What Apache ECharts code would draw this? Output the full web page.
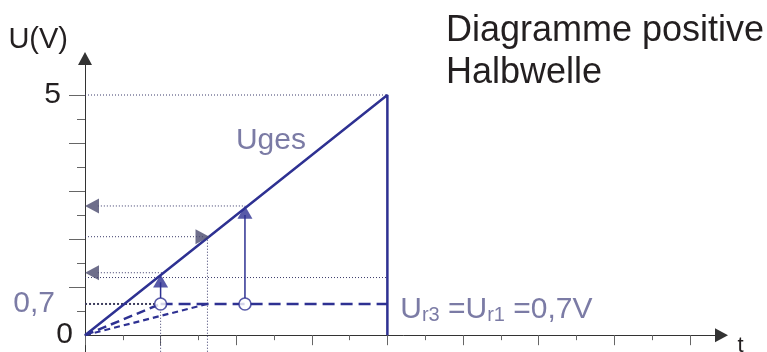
<!DOCTYPE html>
<html>
<head>
<meta charset="utf-8">
<script src="https://cdn.jsdelivr.net/npm/echarts@6/dist/echarts.min.js"></script>
<style>
  html, body { margin: 0; padding: 0; background: #fff; }
  #chart { width: 767px; height: 352px; }
</style>
</head>
<body>
<div id="chart"></div>
<script>
// Uges ramp: rises to 5 V at t=4, then drops back
let ugesT = [0, 4, 4]
let ugesU = [0, 5, 0]
// diode level (drawn a bit below 0.7 in the picture)
let level = 0.65
let levelT = [1, 4]
// the two dashed ramps from the origin
let ramp1 = [[0, 0], [1, 0.65]]
let ramp2 = [[0, 0], [1.62, 0.65]]
// thin dotted helper lines
let guides = [
  [[0, 5], [4, 5]],
  [[0.17, 2.69], [2.12, 2.69]],
  [[0, 2.05], [1.56, 2.05]],
  [[0.17, 1.3], [1.04, 1.3]],
  [[0, 1.2], [4, 1.2]],
  [[1, 0.55], [1, -0.35]],
  [[1.62, 2.05], [1.62, -0.35]]
]
// thicker dotted line next to the 0,7 label
let line07 = [[-0.37, 0.65], [0.92, 0.65]]
// blue arrows going up from the circles
let upShafts = [
  [[1, 0.77], [1, 1.1]],
  [[2.116, 0.77], [2.116, 2.5]]
]
let upHeads = [[1, 1.13], [2.116, 2.56]]
let leftHeads = [[0.093, 2.69], [0.093, 1.3]]
let rightHeads = [[1.554, 2.05]]
let circles = [[1, 0.65], [2.116, 0.65]]
// ticks
let xMajor = [0, 1, 2, 3, 4, 5, 6, 7, 8]
let xMinor = [0.5, 1.5, 2.5, 3.5, 4.5, 5.5, 6.5, 7.5]
let yMajor = [1, 2, 3, 4, 5]
let yMinor = [0.5, 1.5, 2.5, 3.5, 4.5]
let yLabels = [0, 5]

let blue = '#2e3192'
let guideColor = '#3a3a6a'
let font = '"Liberation Sans", Arial, sans-serif'

let ch = echarts.init(document.getElementById('chart'))

let series = []
for (let g of guides) {
  series.push({
    type: 'line', data: g, symbol: 'none', clip: false, silent: true,
    lineStyle: { color: guideColor, width: 1, type: [1, 2] }, z: 1
  })
}
series.push({
  type: 'line', data: line07, symbol: 'none', clip: false,
  lineStyle: { color: '#3c3c5c', width: 2, type: [2, 2] }, z: 1
})
series.push({
  type: 'line', data: ramp1, symbol: 'none',
  lineStyle: { color: blue, width: 2.5, type: [9, 5] }, z: 3
})
series.push({
  type: 'line', data: ramp2, symbol: 'none',
  lineStyle: { color: blue, width: 2.2, type: [6, 4] }, z: 3
})
series.push({
  type: 'line', data: levelT.map(t => [t, level]), symbol: 'none',
  lineStyle: { color: blue, width: 2.5, type: [12, 6] }, z: 3
})
series.push({
  type: 'line', data: ugesT.map((t, i) => [t, ugesU[i]]), symbol: 'none',
  lineStyle: { color: blue, width: 2.5 }, z: 4
})
for (let s of upShafts) {
  series.push({
    type: 'line', data: s, symbol: 'none',
    lineStyle: { color: blue, width: 1.5 }, z: 4
  })
}
series.push({
  type: 'scatter', data: upHeads, symbol: 'triangle', symbolSize: [15, 13],
  itemStyle: { color: blue }, z: 5
})
series.push({
  type: 'scatter', data: leftHeads, symbol: 'triangle', symbolSize: [15, 14], symbolRotate: 90,
  itemStyle: { color: '#4a4a6e' }, z: 5
})
series.push({
  type: 'scatter', data: rightHeads, symbol: 'triangle', symbolSize: [15, 14], symbolRotate: -90,
  itemStyle: { color: '#4a4a6e' }, z: 5
})
series.push({
  type: 'scatter', data: circles, symbol: 'circle', symbolSize: 12,
  itemStyle: { color: '#fff', borderColor: blue, borderWidth: 1.6 }, z: 6
})
// text labels placed through the axes
series.push({
  type: 'scatter', symbolSize: 0, z: 7, silent: true, clip: false,
  data: [
    { value: [2.46, 4.05], label: { formatter: 'Uges', position: 'inside' } },
    { value: [4.17, 0.52], label: {
      position: 'right', distance: 0,
      formatter: '{b|U}{s|r3}{b| =}{b|U}{s|r1}{b| =0,7V}',
      rich: {
        b: { fontSize: 30, color: '#5a5a8e', fontFamily: font, verticalAlign: 'bottom', lineHeight: 30 },
        s: { fontSize: 20, color: '#5a5a8e', fontFamily: font, verticalAlign: 'bottom', lineHeight: 27 }
      }
    } },
    { value: [-0.37, 0.65], label: { formatter: '0,7', position: 'left', distance: 2 } }
  ],
  label: { show: true, fontSize: 30, color: '#5a5a8e', fontFamily: font }
})

let axisCommon = {
  splitLine: { show: false }
}

let option = {
  animation: false,
  title: {
    text: 'Diagramme positive\nHalbwelle',
    left: 441, top: 5,
    textStyle: { fontSize: 36, fontWeight: 'normal', color: '#231f20', fontFamily: font, lineHeight: 42 }
  },
  grid: { left: 85, right: 45.5, top: 58.5, bottom: 0, containLabel: false, outerBoundsMode: 'none' },
  xAxis: [
    Object.assign({}, axisCommon, {
      type: 'value', min: 0, max: 8.42, position: 'bottom',
      name: 't', nameLocation: 'end', nameGap: 16,
      nameTextStyle: { fontSize: 22, color: '#231f20', fontFamily: font, verticalAlign: 'top', lineHeight: 22, padding: [0, 0, 0, 0] },
      axisLine: { onZero: true, lineStyle: { color: '#333', width: 1 }, symbol: ['none', 'triangle'], symbolSize: [14, 13] },
      axisTick: { show: true, customValues: xMajor, length: 10, lineStyle: { color: '#666', width: 1 } },
      axisLabel: { show: false }
    }),
    Object.assign({}, axisCommon, {
      type: 'value', min: 0, max: 8.42, position: 'bottom',
      axisLine: { show: false, onZero: true },
      axisTick: { show: true, customValues: xMinor, length: 5, lineStyle: { color: '#666', width: 1 } },
      axisLabel: { show: false }
    })
  ],
  yAxis: [
    Object.assign({}, axisCommon, {
      type: 'value', min: -0.35, max: 5.76, position: 'left',
      name: 'U(V)', nameLocation: 'end', nameGap: 4,
      nameTextStyle: { fontSize: 29, color: '#231f20', fontFamily: font, align: 'right', verticalAlign: 'bottom', padding: [0, 17, 0, 0] },
      axisLine: { onZero: false, lineStyle: { color: '#333', width: 1 }, symbol: ['none', 'triangle'], symbolSize: [14, 13] },
      axisTick: { show: true, customValues: yMajor, length: 16, lineStyle: { color: '#666', width: 1 } },
      axisLabel: {
        show: true, customValues: yLabels, margin: 12, fontSize: 30, color: '#231f20', fontFamily: font,
        formatter: v => v === 5 ? '{f|5}' : '{z|0}',
        rich: {
          f: { fontSize: 30, fontFamily: font, color: '#231f20', padding: [0, 12, 0, 0] },
          z: { fontSize: 30, fontFamily: font, color: '#231f20', padding: [0, 0, 0, 0] }
        }
      }
    }),
    Object.assign({}, axisCommon, {
      type: 'value', min: -0.35, max: 5.76, position: 'left',
      axisLine: { show: false, onZero: false },
      axisTick: { show: true, customValues: yMinor, length: 8, lineStyle: { color: '#666', width: 1 } },
      axisLabel: { show: false }
    })
  ],
  series: series
}
ch.setOption(option)
</script>
</body>
</html>
